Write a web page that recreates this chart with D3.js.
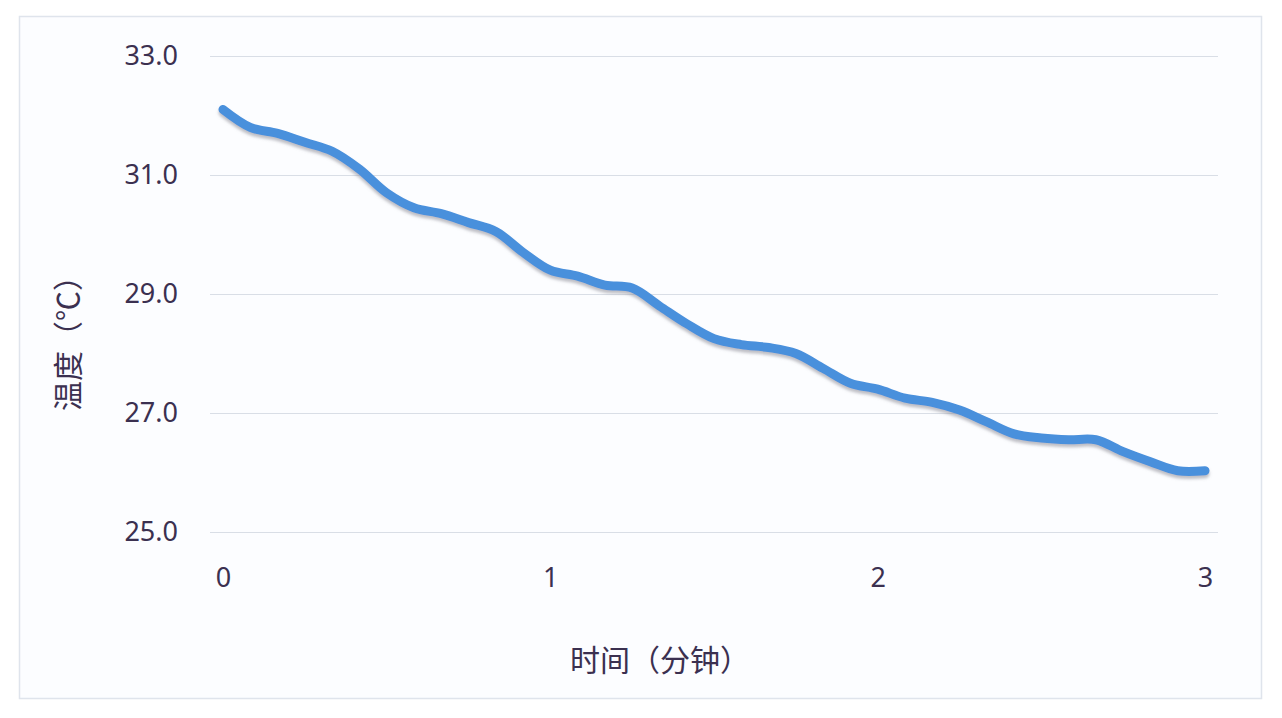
<!DOCTYPE html>
<html>
<head>
<meta charset="utf-8">
<script src="https://cdn.jsdelivr.net/npm/d3@7"></script>
<style>
    body { margin: 0; background: #ffffff; }
    text { font-family: "Noto Sans", "Noto Sans CJK SC", sans-serif; fill: #3b3050; }
</style>
</head>
<body>
<div id="chart"></div>
<script>
// Time in minutes (one reading every 5 seconds)
const minutes = d3.range(37).map(i => i / 12);
// Temperature readings (°C)
const temps = [
    32.1, 31.8, 31.7, 31.55, 31.4, 31.1, 30.7, 30.45, 30.35, 30.2,
    30.05, 29.7, 29.4, 29.3, 29.15, 29.1, 28.8, 28.5, 28.25, 28.15,
    28.1, 28.0, 27.75, 27.5, 27.4, 27.25, 27.18, 27.05, 26.85, 26.65,
    26.58, 26.55, 26.55, 26.35, 26.18, 26.03, 26.03
];
const yTicks = [25, 27, 29, 31, 33];
const xTicks = [0, 1, 2, 3];
const xTitle = "时间（分钟）";
const yTitle = "温度（℃）";

const W = 1282, H = 718;
const margin = { top: 56, right: 77, bottom: 186, left: 223 };
const width = W - margin.left - margin.right;
const height = H - margin.top - margin.bottom;

const root = d3.select("#chart")
    .append("svg")
    .attr("width", W)
    .attr("height", H);

// Chart frame
root.append("rect")
    .attr("x", 19.5)
    .attr("y", 16.5)
    .attr("width", 1242)
    .attr("height", 682)
    .attr("fill", "#fcfdff")
    .attr("stroke", "#dfe4ec")
    .attr("stroke-width", 1.5);

const defs = root.append("defs");
const shadow = defs.append("filter")
    .attr("id", "shadow")
    .attr("x", "-5%").attr("y", "-5%")
    .attr("width", "110%").attr("height", "120%");
shadow.append("feDropShadow")
    .attr("dx", 0)
    .attr("dy", 3)
    .attr("stdDeviation", 1.6)
    .attr("flood-color", "#8a8a95")
    .attr("flood-opacity", 0.55);

const svg = root.append("g")
    .attr("transform", `translate(${margin.left},${margin.top})`);

const x = d3.scaleLinear().domain([0, 3]).range([0, width]);
const y = d3.scaleLinear().domain([25, 33]).range([height, 0]);

// Gridlines
svg.append("g")
    .attr("class", "grid")
    .call(d3.axisLeft(y).tickValues(yTicks).tickSize(-(width + 26)).tickFormat(""))
    .attr("transform", "translate(-13,0)")
    .call(g => g.select(".domain").remove())
    .call(g => g.selectAll("line").attr("stroke", "#d9dee6").attr("stroke-width", 1.2));

// Y tick labels
svg.append("g")
    .call(d3.axisLeft(y).tickValues(yTicks).tickSize(0).tickPadding(45).tickFormat(d3.format(".1f")))
    .call(g => g.select(".domain").remove())
    .call(g => g.selectAll("text")
        .style("font-size", "27px")
        .attr("fill", "#3b3050"));

// X tick labels
svg.append("g")
    .attr("transform", `translate(0,${height})`)
    .call(d3.axisBottom(x).tickValues(xTicks).tickSize(0).tickPadding(36).tickFormat(d3.format("d")))
    .call(g => g.select(".domain").remove())
    .call(g => g.selectAll("text")
        .style("font-size", "27px")
        .attr("fill", "#3b3050"));

// Line
const line = d3.line()
    .x((d, i) => x(minutes[i]))
    .y(d => y(d))
    .curve(d3.curveCatmullRom.alpha(0.5));

svg.append("path")
    .datum(temps)
    .attr("fill", "none")
    .attr("stroke", "#4a90dc")
    .attr("stroke-width", 9)
    .attr("stroke-linecap", "round")
    .attr("stroke-linejoin", "round")
    .attr("filter", "url(#shadow)")
    .attr("d", line);

// Axis titles
root.append("text")
    .attr("x", 660)
    .attr("y", 671)
    .attr("text-anchor", "middle")
    .style("font-size", "30px")
    .style("font-family", "'Noto Sans CJK SC', sans-serif")
    .text(xTitle);

root.append("text")
    .attr("transform", "translate(79,336) rotate(-90)")
    .attr("text-anchor", "middle")
    .style("font-size", "30px")
    .style("font-family", "'Noto Sans CJK SC', sans-serif")
    .text(yTitle);
</script>
</body>
</html>
